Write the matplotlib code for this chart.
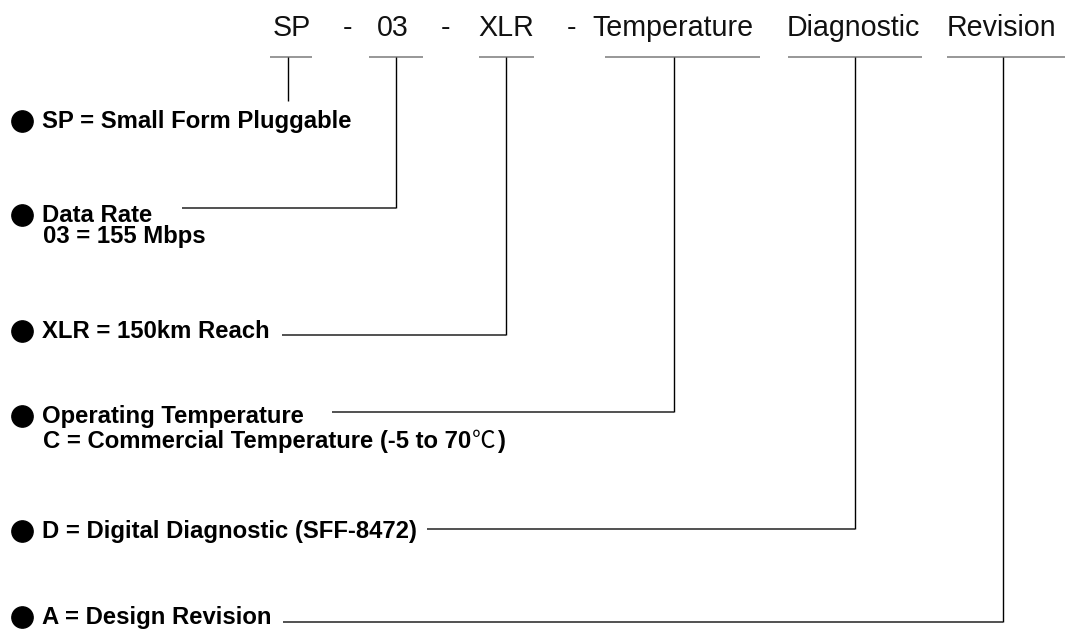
"""Part-number breakdown diagram for the SP-03-XLR SFP transceiver."""

import matplotlib

matplotlib.use("Agg")
import matplotlib.pyplot as plt

# part number fields along the top
CODE_PARTS = ["SP", "03", "XLR", "Temperature", "Diagnostic", "Revision"]
SEPARATORS = ["-", "-", "-"]

# legend entries down the left (heading, optional second line)
LABELS = [
    "SP = Small Form Pluggable",
    "Data Rate",
    "XLR = 150km Reach",
    "Operating Temperature",
    "D = Digital Diagnostic (SFF-8472)",
    "A = Design Revision",
]
SUBLABELS = ["", "03 = 155 Mbps", "", "C = Commercial Temperature (-5 to 70\u2103)", "", ""]

# layout, in pixels of the 1065x633 canvas
PART_X = [292, 393, 506, 673, 853, 1001]
SEP_X = [347, 445, 572]
SPAN = [(270, 312), (369, 423), (479, 534), (605, 760), (788, 922), (947, 1065)]
DROP_X = [288, 396, 506, 674, 855, 1003]
LABEL_BASE = [128, 222, 338, 423, 538, 624]
SUB_BASE = [None, 243, None, 448, None, None]
LINK_START = [None, 182, 282, 332, 427, 283]
LINK_Y = [101, 208, 335, 412, 529, 622]
TOP_Y = 57
CAP = 15

FONT = ["Liberation Sans", "DejaVu Sans"]
SYMB = ["Noto Sans CJK SC", "DejaVu Sans"]
BOLD_SIZE = 17.2


def right_edge(fig, ax, artist) -> float:
    fig.canvas.draw()
    bb = artist.get_window_extent()
    return ax.transData.inverted().transform((bb.x1, bb.y0))[0]


def main() -> None:
    fig = plt.figure(figsize=(10.65, 6.33), dpi=100)
    ax = fig.add_axes([0, 0, 1, 1])
    ax.set_xlim(0, 1065)
    ax.set_ylim(633, 0)
    ax.axis("off")

    for text, x in zip(CODE_PARTS, PART_X):
        ax.text(x, 36, text, ha="center", va="baseline", fontsize=20.6, family=FONT, color="#111111")
    for text, x in zip(SEPARATORS, SEP_X):
        ax.text(x, 36, text, ha="center", va="baseline", fontsize=20.6, family=FONT, color="#111111")

    for (x0, x1), xd, yl, xs in zip(SPAN, DROP_X, LINK_Y, LINK_START):
        ax.plot([x0, x1], [TOP_Y, TOP_Y], color="#7a7a7a", lw=1.1, solid_capstyle="butt")
        ax.plot([xd, xd], [TOP_Y, yl], color="black", lw=1.0, solid_capstyle="butt")
        if xs is not None:
            ax.plot([xs, xd], [yl, yl], color="#222222", lw=1.1, solid_capstyle="butt")

    for label, base, sub, sub_base in zip(LABELS, LABEL_BASE, SUBLABELS, SUB_BASE):
        ax.scatter([22], [base - CAP / 2], s=235, color="black", marker="o", zorder=3)
        ax.text(42, base, label, ha="left", va="baseline", fontsize=BOLD_SIZE, fontweight="bold",
                family=FONT, color="black")
        if not sub:
            continue
        if "\u2103" in sub:
            head, tail = sub.split("\u2103")
            t = ax.text(43, sub_base, head, ha="left", va="baseline", fontsize=BOLD_SIZE,
                        fontweight="bold", family=FONT, color="black")
            t2 = ax.text(right_edge(fig, ax, t) + 1, sub_base, "\u2103", ha="left", va="baseline",
                         fontsize=17, family=SYMB, color="black")
            ax.text(right_edge(fig, ax, t2) + 1, sub_base, tail, ha="left", va="baseline",
                    fontsize=BOLD_SIZE, fontweight="bold", family=FONT, color="black")
        else:
            ax.text(43, sub_base, sub, ha="left", va="baseline", fontsize=BOLD_SIZE,
                    fontweight="bold", family=FONT, color="black")

    fig.savefig("out.png", dpi=100, facecolor="white")
    plt.close(fig)


if __name__ == "__main__":
    main()
